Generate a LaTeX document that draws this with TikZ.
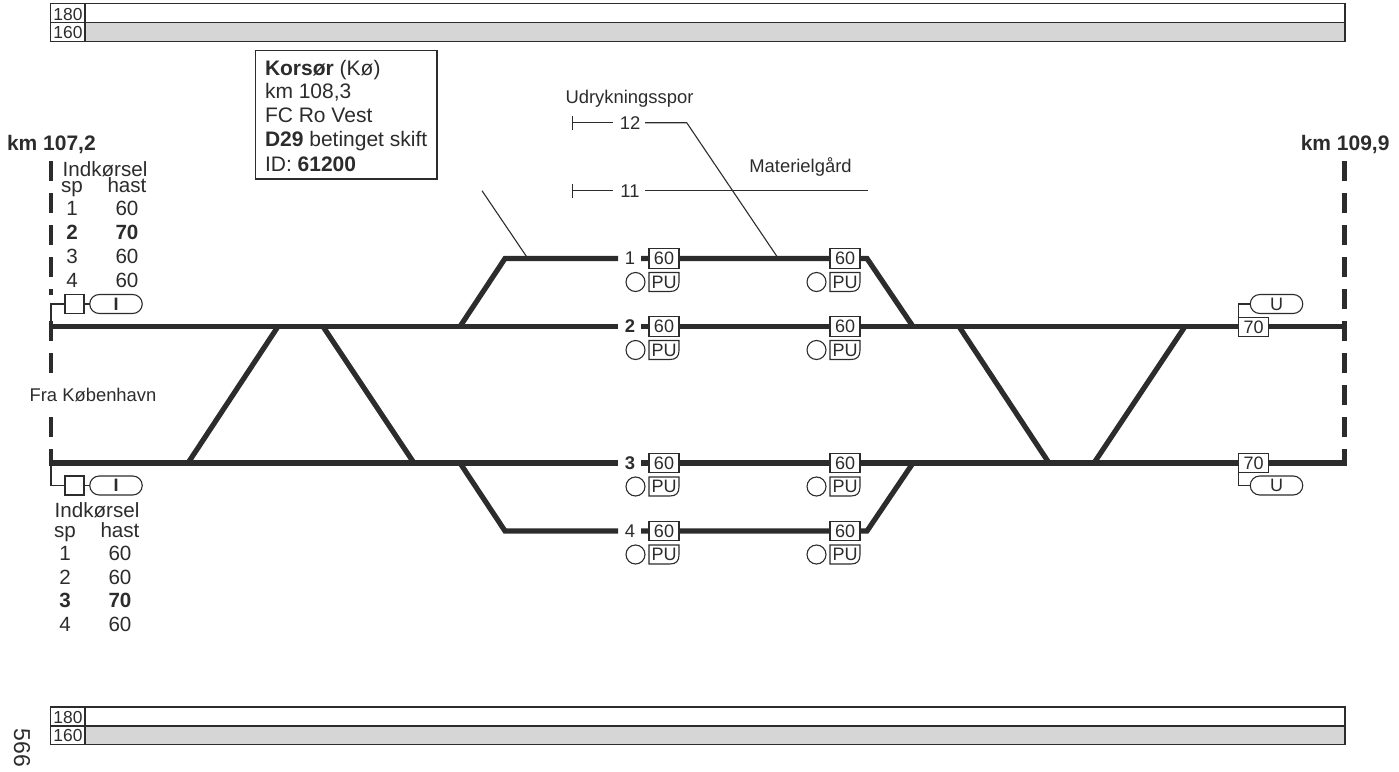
\documentclass[tikz,border=0pt]{standalone}
\usepackage{fontspec}
\setmainfont{Liberation Sans}
\definecolor{ink}{HTML}{2C2C2C}
\definecolor{band}{HTML}{D6D6D6}
\tikzset{
 x=1pt,y=-1pt,
 every node/.style={inner sep=0pt,outer sep=0pt,text=ink},
 trk/.style={draw=ink,line width=5.2pt,line join=miter},
 thin/.style={draw=ink,line width=1.1pt},
 bar/.style={draw=ink,line width=1.2pt},
 lbl/.style={font=\fontsize{18.4}{18.4}\selectfont},
 tbl/.style={font=\fontsize{20.6}{20}\selectfont,anchor=base},
 tblb/.style={font=\bfseries\fontsize{20.6}{20}\selectfont,anchor=base},
 infot/.style={anchor=base west,font=\fontsize{21}{21}\selectfont},
 kmt/.style={font=\bfseries\fontsize{21}{21}\selectfont,anchor=base},
 bart/.style={font=\fontsize{17.4}{17}\selectfont,anchor=base},
 sbox/.style={draw=ink,fill=white,line width=1.1pt,minimum width=30pt,minimum height=19.5pt,font=\fontsize{18}{18}\selectfont},
 pbox/.style={draw=ink,fill=white,line width=1.1pt},
 sq/.style={draw=ink,fill=white,line width=1.1pt,minimum size=19pt},
 pill/.style={draw=ink,fill=white,line width=1.1pt,minimum width=52.5pt,minimum height=19pt,rounded corners=9.5pt,font=\fontsize{18}{18}\selectfont},
 dashb/.style={draw=ink,line width=4.4pt,dash pattern=on 19.5pt off 12.5pt},
}
\newcommand{\PUgroup}[3]{% x y name
 \node[sbox] (s#3) at (#1,#2) {60};
 \draw[pbox] (#1-15,#2+14) -- (#1+15,#2+14) -- (#1+15,#2+24) .. controls (#1+15,#2+30) and (#1+12,#2+33) .. (#1+6,#2+33) -- (#1-15,#2+33) -- cycle;
 \node[font=\fontsize{18}{18}\selectfont] (p#3) at (#1,#2+23.5) {PU};
 \node[draw=ink,fill=white,circle,line width=1.1pt,minimum size=19pt] (c#3) at (#1-28.5,#2+23.5) {};
}
\begin{document}
\begin{tikzpicture}
\useasboundingbox (0,0) rectangle (1399,771);
% speed bars
\foreach \yy/\nm in {3.5/t,707/b}{
 \draw[bar,fill=band] (85,\yy+19) rectangle (1345,\yy+37.8);
 \draw[bar] (50.8,\yy) rectangle (1345,\yy+37.8);
 \draw[bar] (50.8,\yy+19) -- (1345,\yy+19);
 \draw[bar] (85,\yy) -- (85,\yy+37.8);
 \node[bart] at (68,\yy+16.8) {180};
 \node[bart] at (68,\yy+34.8) {160};
}
\node[font=\fontsize{23}{23}\selectfont,rotate=-90] (page) at (22,748) {566};
% info box
\node[draw=ink,fill=white,line width=1.1pt,anchor=north west,minimum width=181.5pt,minimum height=128.5pt] (info) at (255.5,50.5) {};
\node[infot] at (265,75.7) {\textbf{Korsør} (Kø)};
\node[infot] at (265,98.6) {km 108,3};
\node[infot] at (265,122.7) {FC Ro Vest};
\node[infot] at (265,146.7) {\textbf{D29} betinget skift};
\node[infot] at (265,171) {ID: \textbf{61200}};
% km
\node[kmt,anchor=base west] (kml) at (7,150.7) {km 107,2};
\node[kmt,anchor=base east] (kmr) at (1389.5,150.7) {km 109,9};
% boundary dashes
\coordinate (lt) at (51,161);\coordinate (lb) at (51,463);
\coordinate (rt) at (1344.5,161);\coordinate (rb) at (1344.5,463);
\draw[dashb] (rt) -- (rb);
\draw[dashb] (lt) -- (lb);
\fill[white] (47,294.5) rectangle (56,320.5);
\fill[white] (47,376) rectangle (56,413);
% tracks
\coordinate (t2a) at (49,326.5);\coordinate (t2b) at (1346.5,326.5);
\coordinate (t3a) at (49,463);\coordinate (t3b) at (1346.5,463);
\draw[trk] (t2a) -- (618,326.5);
\draw[trk] (641,326.5) -- (t2b);
\draw[trk] (t3a) -- (618,463);
\draw[trk] (641,463) -- (t3b);
\draw[trk] (460,326.5) -- (505,258.5) -- (618,258.5);
\draw[trk] (641,258.5) -- (867,258.5) -- (913,326.5);
\draw[trk] (460,463) -- (505,531) -- (618,531);
\draw[trk] (641,531) -- (867,531) -- (913,463);
\draw[trk] (188,463) -- (278,326.5);
\draw[trk] (323,326.5) -- (414,463);
\draw[trk] (959,326.5) -- (1049,463);
\draw[trk] (1094,463) -- (1185,326.5);
% track numbers
\node[lbl] (n1) at (630,258.5) {1};
\node[lbl,font=\bfseries\fontsize{18.4}{18.4}\selectfont] (n2) at (630,326.5) {2};
\node[lbl,font=\bfseries\fontsize{18.4}{18.4}\selectfont] (n3) at (630,463) {3};
\node[lbl] (n4) at (630,531) {4};
% side tracks
\node[lbl] (n12) at (630,122.7) {12};
\node[lbl] (n11) at (630,190.7) {11};
\coordinate (e12) at (572.7,122.7);\coordinate (k12) at (686.7,122.7);\coordinate (j12) at (778,258);
\coordinate (e11) at (572.7,190.7);\coordinate (x11) at (868,190.7);
\coordinate (d1) at (482,190.7);\coordinate (d2) at (527.5,258);
\draw[thin] (572.7,115.5) -- (572.7,130);
\draw[thin] (e12) -- (613,122.7);
\draw[thin] (645,122.7) -- (k12) -- (j12);
\draw[thin] (572.7,183.5) -- (572.7,198);
\draw[thin] (e11) -- (613,190.7);
\draw[thin] (645,190.7) -- (x11);
\draw[thin] (d1) -- (d2);
\node[lbl] (ud) at (629.5,99) {Udrykningsspor};
\node[lbl] (mat) at (800.5,167) {Materielgård};
\node[lbl] (fra) at (93,395) {Fra København};
% PU groups
\PUgroup{664}{258.5}{a}\PUgroup{845}{258.5}{b}
\PUgroup{664}{326.5}{c}\PUgroup{845}{326.5}{d}
\PUgroup{664}{463}{e}\PUgroup{845}{463}{f}
\PUgroup{664}{531}{g}\PUgroup{845}{531}{h}
% entry signals
\coordinate (ju) at (51,326.5);\coordinate (jv) at (51,463);
\foreach \yy/\nm in {304/u,485.5/v}{
 \node[sq] (sq\nm) at (74.5,\yy) {};
 \node[pill] (pl\nm) at (116,\yy) {\bfseries I};
 \draw[thin] (sq\nm) -- (pl\nm);
 \draw[thin] (sq\nm.west) -| (j\nm);
}
% exit signals
\node[sbox] (x1) at (1253.5,327) {70};
\node[sbox] (x2) at (1253.5,463) {70};
\node[pill] (u1) at (1276.5,304) {U};
\node[pill] (u2) at (1276.5,485.5) {U};
\draw[thin] (u1.west) -| (x1.north west);
\draw[thin] (u2.west) -| (x2.south west);
% tables
\node[tbl] (it) at (105,176) {Indkørsel};
\node[tbl] (st) at (72,192) {sp};\node[tbl] (ht) at (127,192) {hast};
\foreach \a/\b/\yy/\f in {1/60/215/tbl,2/70/239/tblb,3/60/263/tbl,4/60/287/tbl}{
 \node[\f] at (72,\yy) {\a};
 \node[\f] at (127,\yy) {\b};
}
\node[tbl] (ib) at (97,517) {Indkørsel};
\node[tbl] (sb) at (65,537) {sp};\node[tbl] (hb) at (120,537) {hast};
\foreach \a/\b/\yy/\f in {1/60/560/tbl,2/60/584/tbl,3/70/607/tblb,4/60/631/tbl}{
 \node[\f] at (65,\yy) {\a};
 \node[\f] at (120,\yy) {\b};
}
\end{tikzpicture}
\end{document}
